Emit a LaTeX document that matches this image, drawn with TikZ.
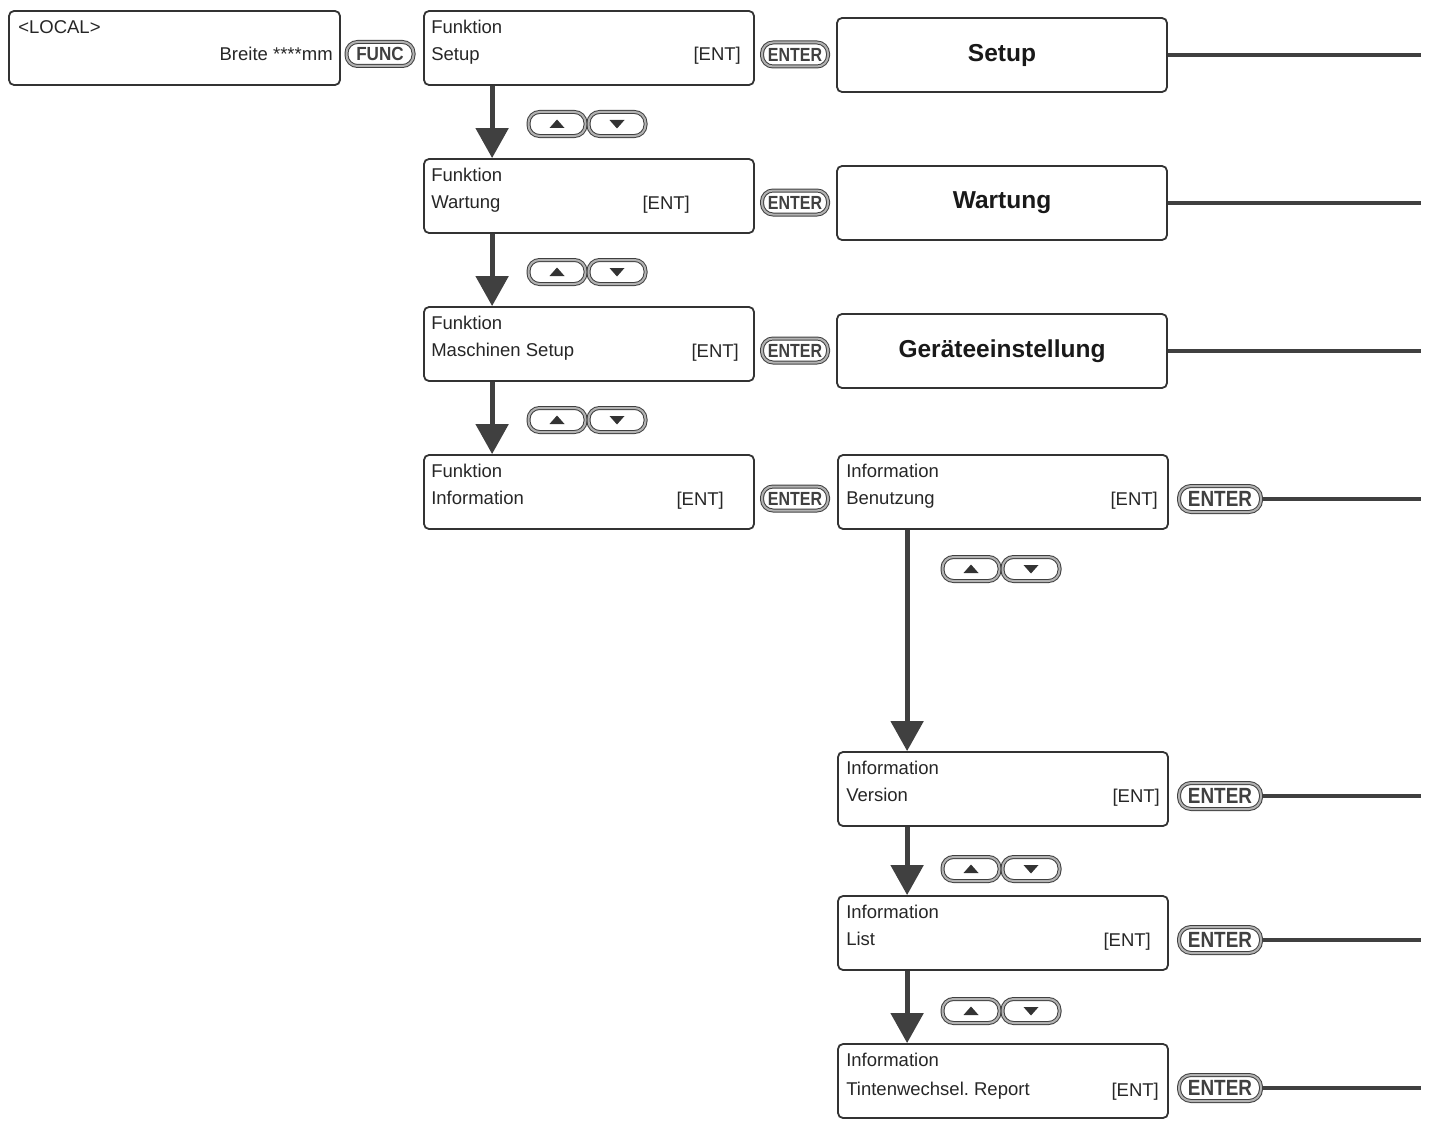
\documentclass[tikz,border=0pt]{standalone}
\usepackage{fontspec}
\setmainfont{Liberation Sans}
\usepackage{graphicx}
\usetikzlibrary{arrows.meta,positioning}
\frenchspacing

\begin{document}
\begin{tikzpicture}[x=1pt, y=-1pt, >=Latex,
    screenbox/.style={draw=black!80, line width=1.8pt, rounded corners=5pt, minimum width=330pt, minimum height=74pt, inner sep=0pt},
    headbox/.style={screenbox, font=\fontsize{24.5}{28}\selectfont\bfseries, text=black!90},
    txt/.style={font=\fontsize{18.5}{22}\selectfont, text=black!85, inner sep=0pt},
    btn/.style={draw=black!75, line width=1pt, double=gray!60, double distance=2pt, fill=white, rounded corners=11pt, minimum height=24pt, inner sep=0pt, text=black!75, font=\fontsize{19}{20}\selectfont\bfseries},
    bigbtn/.style={btn, minimum width=82pt, minimum height=26pt, rounded corners=12pt, font=\fontsize{22}{24}\selectfont\bfseries},
    arrowbtn/.style={btn, minimum width=57pt},
    flowarrow/.style={-{Triangle[length=30pt, width=32pt]}, line width=5pt, draw=black!75},
    exitline/.style={line width=3.5pt, draw=black!75}]
    \useasboundingbox (0,0) rectangle (1431,1129);

    % local display and FUNC key
    \node[screenbox, minimum width=331pt] (local) at (174.5,48) {};
    \node[txt, anchor=base west] at ([xshift=10pt, yshift=-23pt]local.north west) {<LOCAL>};
    \node[txt, anchor=base east] at ([xshift=-8pt, yshift=-50pt]local.north east) {Breite ****mm};
    \node[btn, minimum width=67pt] (func) at (380,54) {\scalebox{0.9}[1]{FUNC}};

    % function menu
    \foreach \n/\y/\entry/\entx in {1/48/Setup/741, 2/196/Wartung/690, 3/344/Maschinen Setup/739, 4/492/Information/724} {
        \node[screenbox] (fn\n) at (589,\y) {};
        \node[txt, anchor=base west] at ([xshift=8pt, yshift=-23pt]fn\n.north west) {Funktion};
        \node[txt, anchor=base west] at ([xshift=8pt, yshift=-50pt]fn\n.north west) {\entry};
        \node[txt, anchor=base east] at (\entx,\y+13) {[ENT]};
        \node[btn, minimum width=66pt] (fnent\n) at (795,\y+6.5) {\scalebox{0.84}[1]{ENTER}};
    }
    \foreach \a/\b/\y in {1/2/124, 2/3/272, 3/4/420} {
        \draw[flowarrow] ([xshift=69pt]fn\a.south west) -- ([xshift=69pt]fn\b.north west);
        \node[arrowbtn] (fup\a) at (557,\y) {};
        \node[arrowbtn] (fdn\a) at (617,\y) {};
        \fill[black!80, shift={(fup\a.center)}] (-7.5,4) -- (7.5,4) -- (0,-4.5) -- cycle;
        \fill[black!80, shift={(fdn\a.center)}] (-7.5,-4) -- (7.5,-4) -- (0,4.5) -- cycle;
    }

    % sub menus
    \node[headbox] (setup) at (1002,55) {Setup};
    \node[headbox] (wartung) at (1002,203) {Wartung};
    \node[headbox] (geraete) at (1002,351) {Geräteeinstellung};
    \coordinate (setupend) at (1421,55);
    \coordinate (wartungend) at (1421,203);
    \coordinate (geraeteend) at (1421,351);
    \draw[exitline] (setup) -- (setupend);
    \draw[exitline] (wartung) -- (wartungend);
    \draw[exitline] (geraete) -- (geraeteend);

    % information menu
    \foreach \n/\y/\entry/\entx/\dy in {1/492/Benutzung/1158/50, 2/789/Version/1160/50, 3/933/List/1151/50, 4/1081/Tintenwechsel. Report/1159/52} {
        \node[screenbox] (info\n) at (1003,\y) {};
        \node[txt, anchor=base west] at ([xshift=9pt, yshift=-23pt]info\n.north west) {Information};
        \node[txt, anchor=base west] at ([xshift=9pt, yshift=-\dy pt]info\n.north west) {\entry};
        \node[txt, anchor=base east] at ([yshift=-\dy pt]\entx,\y-37) {[ENT]};
        \node[bigbtn] (infoent\n) at (1220,\y+7) {\scalebox{0.86}[1]{ENTER}};
        \coordinate (infoend\n) at (1421,\y+7);
        \draw[exitline] (infoent\n) -- (infoend\n);
    }
    \foreach \a/\b/\y in {1/2/569, 2/3/869, 3/4/1011} {
        \draw[flowarrow] ([xshift=70pt]info\a.south west) -- ([xshift=70pt]info\b.north west);
        \node[arrowbtn] (iup\a) at (971,\y) {};
        \node[arrowbtn] (idn\a) at (1031,\y) {};
        \fill[black!80, shift={(iup\a.center)}] (-7.5,4) -- (7.5,4) -- (0,-4.5) -- cycle;
        \fill[black!80, shift={(idn\a.center)}] (-7.5,-4) -- (7.5,-4) -- (0,4.5) -- cycle;
    }
\end{tikzpicture}
\end{document}
